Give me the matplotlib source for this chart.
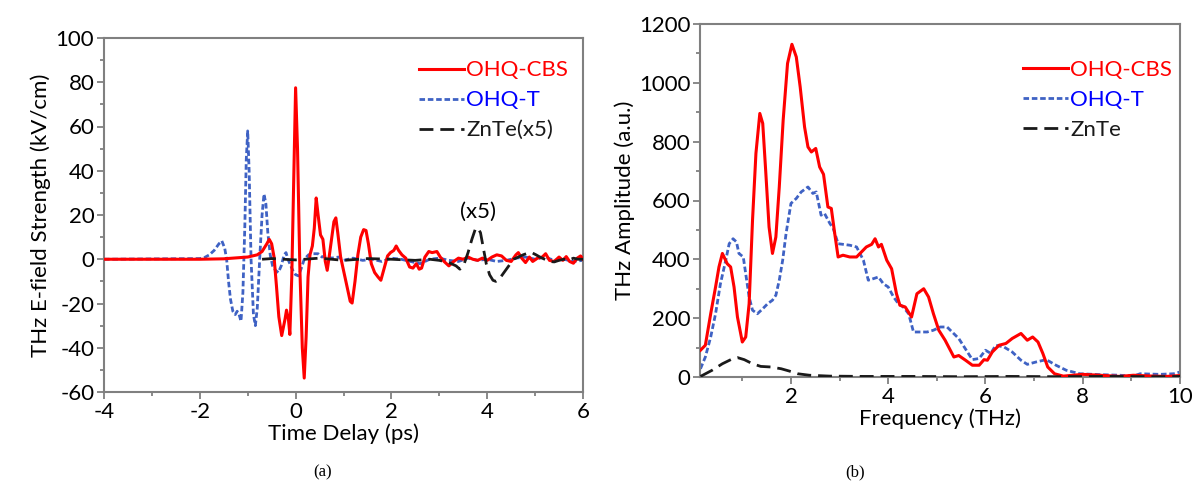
import matplotlib
matplotlib.use("Agg")
import matplotlib.pyplot as plt
from matplotlib.ticker import MultipleLocator
from matplotlib.lines import Line2D

# ---------------- Panel (a): time-domain waveforms ----------------
t_cbs = [-4, -2, -1.5, -1.0, -0.8, -0.7, -0.6, -0.55, -0.5, -0.45, -0.4, -0.35, -0.29,
         -0.22, -0.19, -0.15, -0.12, -0.08, -0.04, 0.0, 0.04, 0.09, 0.14, 0.18, 0.22,
         0.26, 0.3, 0.35, 0.39, 0.43, 0.47, 0.52, 0.57, 0.62, 0.66, 0.7, 0.75, 0.8,
         0.84, 0.88, 0.94, 1.0, 1.08, 1.14, 1.18, 1.24, 1.3, 1.36, 1.42, 1.47, 1.52,
         1.58, 1.65, 1.72, 1.78, 1.85, 1.92, 1.98, 2.05, 2.1, 2.15, 2.22, 2.3, 2.38,
         2.45, 2.52, 2.58, 2.63, 2.7, 2.78, 2.85, 2.95, 3.02, 3.1, 3.2, 3.3, 3.4, 3.5,
         3.6, 3.7, 3.8, 3.9, 4.0, 4.1, 4.2, 4.3, 4.4, 4.5, 4.6, 4.65, 4.72, 4.8, 4.88,
         4.95, 5.05, 5.15, 5.22, 5.3, 5.4, 5.5, 5.58, 5.65, 5.72, 5.8, 5.88, 5.95, 6.0]
e_cbs = [0, 0, 0.2, 1, 2, 3.5, 7, 9, 7, 1, -12, -26, -34.5,
         -27, -23, -27, -34, -8, 35, 77.5, 50, -5, -40, -53.7, -35,
         -8, 2, 6, 14, 27.7, 20, 11, 9, -1, -5, 1, 9, 17,
         18.7, 12, 1, -5, -13, -19, -19.8, -10, 2, 10, 13.4, 13, 7,
         -2, -6, -8, -9.5, -4, 1.5, 3, 4, 6, 4, 2, 0.5, -3.5,
         -4, -2, -4.5, -4, 1, 3.5, 3, 3.5, 1, -1, -3, -1, 0.5, 0,
         1, 0, -0.5, 0.5, -0.5, 1, 2, 1.5, -0.5, -1, 2, 3, 0.5, -1.5, 1,
         -1, 0.5, 1, 2.5, -0.5, -1, 1, -0.5, 1.2, -1, -1.8, 0.5, 1.5, 0]

t_t = [-4, -2, -1.9, -1.8, -1.7, -1.6, -1.54, -1.48, -1.44, -1.4, -1.36, -1.31, -1.26,
       -1.22, -1.18, -1.14, -1.1, -1.06, -1.03, -1.0, -0.97, -0.93, -0.88, -0.84, -0.8,
       -0.75, -0.7, -0.66, -0.62, -0.58, -0.53, -0.48, -0.42, -0.36, -0.3, -0.24, -0.2,
       -0.16, -0.12, -0.06, 0.0, 0.06, 0.12, 0.18, 0.27, 0.35, 0.47, 0.55, 0.65, 0.75,
       0.9, 1.0, 1.2, 1.4, 1.6, 1.8, 2.0, 2.2, 2.4, 2.6, 2.8, 3.0, 3.2, 3.4, 3.6, 3.8,
       4.0, 4.2, 4.4, 4.6, 4.8, 5.0, 5.2, 5.4, 5.6, 5.8, 6.0]
e_t = [0, 0.3, 0.8, 2, 4, 7, 8.3, 5, 0, -10, -18, -23.5, -25,
       -23.5, -25, -28, -15, 15, 45, 58, 40, 0, -25, -30, -22,
       0, 20, 29.5, 25, 12, 2, -3, -5, -6, -3, 2, 3,
       0, -2, -5, -7, -7.5, -4, 0, 2, 2.5, 2.5, 1, 1.5, 0.5,
       1, -0.5, 0.5, -0.5, 0, -1, 0.5, 0, -1, -2, 0, 0.5, -0.5, -1, 0.5, -0.5,
       0, -1, -0.5, 0.5, 1, 0, 1, -0.5, 0, -1, -0.5]

t_znte = [-0.7, -0.5, 0.0, 0.5, 1.0, 1.5, 2.0, 2.5, 2.8, 3.0, 3.2, 3.35, 3.43, 3.52,
          3.6, 3.68, 3.75, 3.8, 3.86, 3.92, 3.98, 4.05, 4.12, 4.18, 4.25, 4.35, 4.45,
          4.55, 4.65, 4.75, 4.85, 4.93, 5.02, 5.1, 5.2, 5.3, 5.4, 5.5, 5.6, 5.7, 5.8,
          5.9, 6.0]
e_znte = [0, 0.3, -0.3, 0.5, -0.5, 0.3, 0, -0.5, 0, -0.5, -1.5, -3, -4.5, -2,
          3, 9, 13.5, 14.3, 12, 5, -2, -7, -9.5, -10, -9, -6, -3,
          0, 1, 2, 2.8, 3, 2, 1, 0, -1, -1.2, -0.5, 0, -0.5, 0.5,
          0, 0]

# ---------------- Panel (b): spectra ----------------
f_cbs = [0.14, 0.24, 0.35, 0.45, 0.52, 0.59, 0.69, 0.76, 0.83, 0.90, 1.00, 1.07, 1.14,
         1.21, 1.28, 1.36, 1.42, 1.48, 1.55, 1.62, 1.69, 1.76, 1.84, 1.93, 2.02, 2.11,
         2.19, 2.28, 2.35, 2.42, 2.51, 2.59, 2.67, 2.76, 2.83, 2.90, 2.97, 3.07, 3.21,
         3.35, 3.45, 3.55, 3.66, 3.73, 3.80, 3.86, 3.97, 4.07, 4.17, 4.24, 4.35, 4.48,
         4.59, 4.73, 4.83, 4.93, 5.04, 5.17, 5.35, 5.45, 5.59, 5.73, 5.87, 5.97, 6.04,
         6.14, 6.28, 6.42, 6.55, 6.73, 6.86, 6.97, 7.08, 7.18, 7.28, 7.42, 7.60, 8.00,
         8.35, 8.76, 9.04, 9.45, 9.73, 10.0]
a_cbs = [91, 108, 215, 306, 374, 420, 385, 374, 306, 204, 119, 136, 249,
         533, 760, 896, 862, 703, 510, 420, 476, 646, 873, 1066, 1131, 1088,
         986, 850, 782, 765, 777, 714, 689, 578, 573, 488, 408, 414, 408,
         408, 425, 442, 451, 470, 442, 451, 397, 368, 283, 244, 238, 204,
         283, 300, 272, 215, 159, 125, 68, 73, 57, 40, 40, 59, 57,
         85, 108, 114, 131, 148, 125, 136, 119, 80, 34, 11, 3, 9,
         6, 2, 6, 3, 2, 5]

f_t = [0.14, 0.24, 0.35, 0.45, 0.55, 0.66, 0.73, 0.81, 0.88, 0.93, 1.02, 1.07, 1.14,
       1.21, 1.31, 1.42, 1.52, 1.62, 1.69, 1.76, 1.83, 1.90, 2.00, 2.11, 2.21, 2.35,
       2.45, 2.52, 2.62, 2.69, 2.80, 2.87, 2.97, 3.07, 3.21, 3.35, 3.49, 3.59, 3.69,
       3.80, 3.90, 4.00, 4.11, 4.21, 4.31, 4.42, 4.52, 4.66, 4.80, 4.93, 5.07, 5.21,
       5.45, 5.73, 5.87, 6.00, 6.11, 6.21, 6.38, 6.55, 6.73, 6.86, 7.04, 7.25, 7.45,
       7.66, 7.94, 8.35, 8.76, 9.04, 9.18, 9.59, 9.87, 10.0]
a_t = [28, 68, 136, 215, 317, 397, 453, 470, 459, 420, 408, 351, 272,
       227, 215, 232, 249, 261, 278, 329, 397, 488, 590, 607, 629, 646,
       624, 629, 550, 556, 522, 505, 453, 451, 448, 442, 397, 329, 334,
       340, 317, 306, 272, 249, 238, 215, 153, 153, 153, 159, 170, 170,
       131, 59, 63, 91, 80, 108, 102, 85, 57, 43, 51, 59, 40,
       23, 11, 8, 6, 3, 11, 9, 11, 17]

f_znte = [0.14, 0.38, 0.59, 0.80, 0.90, 1.04, 1.21, 1.38, 1.59, 1.80, 1.97, 2.14,
          2.38, 2.80, 3.49, 4.5, 5.5, 6.5, 7.5, 8.5, 9.5, 10.0]
a_znte = [2, 23, 45, 62, 66, 59, 45, 36, 34, 28, 20, 11,
          6, 3, 2, 2, 1, 2, 1, 2, 1, 2]

# ---------------- styling ----------------
FONT = "Lato"
plt.rcParams["font.family"] = [FONT, "DejaVu Sans"]
plt.rcParams["axes.unicode_minus"] = False
RED = "#ff0000"
BLUE = "#3f62c4"
BLACK = "#1a1a1a"
SPINE = "#808080"
FS = 16

fig = plt.figure(figsize=(11.97, 4.88), dpi=100)
ax1 = fig.add_axes([104/1197, 1-392/488, (583-104)/1197, (392-38)/488])
ax2 = fig.add_axes([700/1197, 1-377/488, (1180-700)/1197, (377-24)/488])

def style(ax):
    for s in ax.spines.values():
        s.set_color(SPINE)
        s.set_linewidth(1.5)
    ax.tick_params(which="both", direction="out", color=SPINE, width=1.3,
                   labelsize=FS, top=False, right=False, pad=2)
    ax.tick_params(which="major", length=5)
    ax.tick_params(which="minor", length=3)

# Panel (a)
ax1.plot(t_cbs, e_cbs, color=RED, lw=2.2, zorder=3)
ax1.plot(t_t, e_t, color=BLUE, lw=2.0, dashes=(2.0, 1.0), zorder=2)
ax1.plot(t_znte, e_znte, color=BLACK, lw=2.0, dashes=(5, 2.5), zorder=4)
ax1.set_xlim(-4, 6)
ax1.set_ylim(-60, 100)
ax1.xaxis.set_major_locator(MultipleLocator(2))
ax1.xaxis.set_minor_locator(MultipleLocator(1))
ax1.yaxis.set_major_locator(MultipleLocator(20))
ax1.yaxis.set_minor_locator(MultipleLocator(10))
style(ax1)
ax1.set_xlabel("Time Delay (ps)", fontsize=FS, labelpad=1)
ax1.set_ylabel("THz E-field Strength (kV/cm)", fontsize=FS, labelpad=3)
ax1.text(3.8, 21.5, "(x5)", fontsize=FS, ha="center", va="center")

h1 = [Line2D([], [], color=RED, lw=2.2),
      Line2D([], [], color=BLUE, lw=2.0, dashes=(2.0, 1.0)),
      Line2D([], [], color=BLACK, lw=2.0, dashes=(5, 2.5))]
leg1 = ax1.legend(h1, ["OHQ-CBS", "OHQ-T", "ZnTe(x5)"], loc="upper left",
                  bbox_to_anchor=(0.64, 0.962), frameon=False, fontsize=FS,
                  handlelength=2.0, handletextpad=0.1, labelspacing=0.45,
                  borderaxespad=0)
for txt, c in zip(leg1.get_texts(), [RED, "#0000ff", BLACK]):
    txt.set_color(c)

# Panel (b)
ax2.plot(f_cbs, a_cbs, color=RED, lw=2.2, zorder=3)
ax2.plot(f_t, a_t, color=BLUE, lw=2.0, dashes=(2.0, 1.0), zorder=2)
ax2.plot(f_znte, a_znte, color=BLACK, lw=2.0, dashes=(5, 2.5), zorder=4)
ax2.set_xlim(0.13, 10)
ax2.set_ylim(0, 1200)
ax2.xaxis.set_major_locator(MultipleLocator(2))
ax2.xaxis.set_minor_locator(MultipleLocator(1))
ax2.yaxis.set_major_locator(MultipleLocator(200))
ax2.yaxis.set_minor_locator(MultipleLocator(100))
style(ax2)
ax2.set_xlabel("Frequency (THz)", fontsize=FS, labelpad=1)
ax2.set_ylabel("THz Amplitude (a.u.)", fontsize=FS, labelpad=3)

h2 = [Line2D([], [], color=RED, lw=2.2),
      Line2D([], [], color=BLUE, lw=2.0, dashes=(2.0, 1.0)),
      Line2D([], [], color=BLACK, lw=2.0, dashes=(5, 2.5))]
leg2 = ax2.legend(h2, ["OHQ-CBS", "OHQ-T", "ZnTe"], loc="upper left",
                  bbox_to_anchor=(0.655, 0.924), frameon=False, fontsize=FS,
                  handlelength=2.0, handletextpad=0.1, labelspacing=0.45,
                  borderaxespad=0)
for txt, c in zip(leg2.get_texts(), [RED, "#0000ff", BLACK]):
    txt.set_color(c)

# captions
fig.text(323/1197, 1-472/488, "(a)", fontsize=12, family="Liberation Serif",
         ha="center", va="center")
fig.text(855/1197, 1-472/488, "(b)", fontsize=12, family="Liberation Serif",
         ha="center", va="center")

fig.savefig("out.png", dpi=100)
